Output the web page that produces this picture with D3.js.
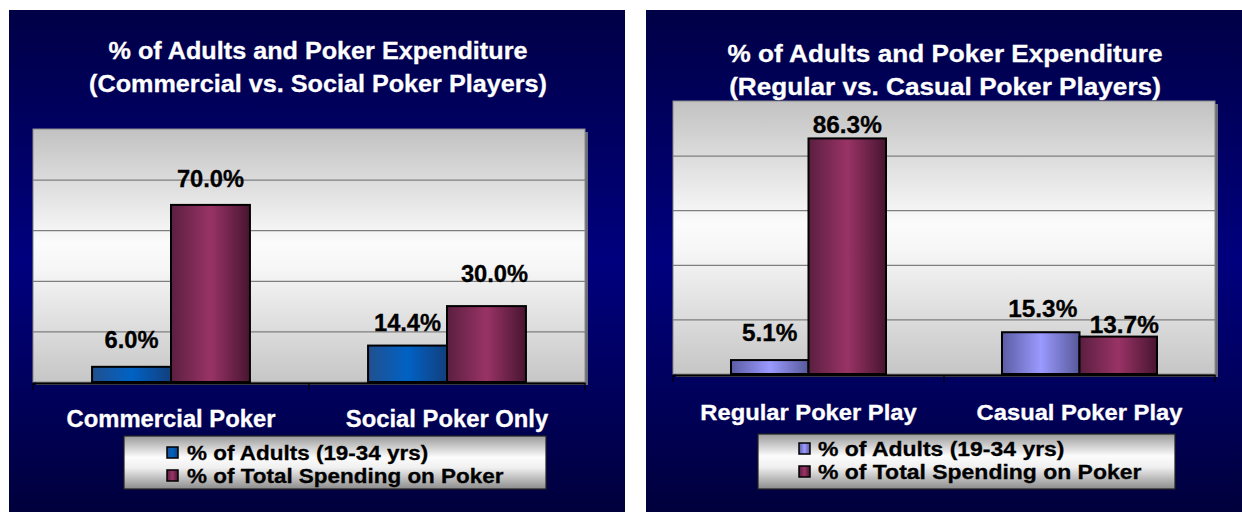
<!DOCTYPE html>
<html>
<head>
<meta charset="utf-8">
<script src="https://cdn.jsdelivr.net/npm/d3@7"></script>
<style>
  body { margin: 0; background: #ffffff; }
  svg { display: block; }
  text { font-family: "Liberation Sans", Arial, sans-serif; font-weight: bold; }
</style>
</head>
<body>
<svg id="chart" width="1242" height="512"></svg>
<script>
// ---------------- DATA ----------------
const seriesNames = ["% of Adults (19-34 yrs)", "% of Total Spending on Poker"];
const yTicks = [0, 20, 40, 60, 80, 100];

const leftTitle = ["% of Adults and Poker Expenditure", "(Commercial vs. Social Poker Players)"];
const leftCategories = ["Commercial Poker", "Social Poker Only"];
const leftAdults = [6.0, 14.4];
const leftSpending = [70.0, 30.0];

const rightTitle = ["% of Adults and Poker Expenditure", "(Regular vs. Casual Poker Players)"];
const rightCategories = ["Regular Poker Play", "Casual Poker Play"];
const rightAdults = [5.1, 15.3];
const rightSpending = [86.3, 13.7];

// ---------------- LAYOUT / STYLE ----------------
const panels = [
  {
    title: leftTitle, categories: leftCategories, series: [leftAdults, leftSpending],
    grads: ["barBlue", "barMaroon"],
    box: { x: 9, y: 10, w: 616, h: 502 },
    plot: { l: 33, t: 129, r: 585, b: 382 },
    titleX: 318, titleY: [59, 92], titleSX: 1.05,
    catY: 427, catSX: 1.035, catFS: 23,
    legend: { x: 124, y: 436, w: 422, h: 53, sq: 167, tx: 187, rows: [460, 483] }, legSX: 1.07, legFS: 21,
    labSX: 1.03,
    lift: [[19, 15], [18, 24]], nudge: [[0, 0], [0, 8]]
  },
  {
    title: rightTitle, categories: rightCategories, series: [rightAdults, rightSpending],
    grads: ["barLav", "barMaroon"],
    box: { x: 646, y: 10, w: 596, h: 502 },
    plot: { l: 673, t: 101, r: 1215, b: 374 },
    titleX: 945, titleY: [62, 95], titleSX: 1.09,
    catY: 420, catSX: 1.08, catFS: 22,
    legend: { x: 758, y: 434, w: 417, h: 55, sq: 799, tx: 818, rows: [456, 479] }, legSX: 1.12, legFS: 20.5,
    labSX: 1.06,
    lift: [[19, 15], [5, 4]], nudge: [[0, 2], [0, 6]]
  }
];

const svg = d3.select("#chart");
const defs = svg.append("defs");

function vGrad(id, stops) {
  const g = defs.append("linearGradient").attr("id", id)
    .attr("x1", 0).attr("y1", 0).attr("x2", 0).attr("y2", 1);
  stops.forEach(s => g.append("stop").attr("offset", s[0]).attr("stop-color", s[1]));
}
function hGrad(id, stops) {
  const g = defs.append("linearGradient").attr("id", id)
    .attr("x1", 0).attr("y1", 0).attr("x2", 1).attr("y2", 0);
  stops.forEach(s => g.append("stop").attr("offset", s[0]).attr("stop-color", s[1]));
}
vGrad("panelBg", [[0, "#000046"], [0.5, "#00007e"], [1, "#00003c"]]);
vGrad("plotBg", [[0, "#c2c2c2"], [0.45, "#fbfbfb"], [0.55, "#f6f6f6"], [1, "#c6c6c6"]]);
vGrad("legendBg", [[0, "#9a9a9a"], [0.4, "#fcfcfc"], [0.6, "#f0f0f0"], [1, "#8c8c8c"]]);
hGrad("barBlue", [[0, "#21508f"], [0.5, "#0062c4"], [1, "#123f7d"]]);
hGrad("barLav", [[0, "#5c5ca4"], [0.5, "#9a9aff"], [1, "#58589a"]]);
hGrad("barMaroon", [[0, "#5a1f40"], [0.5, "#993366"], [1, "#481530"]]);

panels.forEach(p => {
  const g = svg.append("g");
  const P = p.plot;

  // panel background
  g.append("rect").attr("x", p.box.x).attr("y", p.box.y)
    .attr("width", p.box.w).attr("height", p.box.h).attr("fill", "url(#panelBg)");

  // title
  g.selectAll("text.title").data(p.title).join("text")
    .attr("class", "title")
    .attr("transform", (d, i) => `translate(${p.titleX},${p.titleY[i]}) scale(${p.titleSX},1)`)
    .attr("text-anchor", "middle").attr("fill", "#ffffff").attr("font-size", 24)
    .attr("stroke", "#ffffff").attr("stroke-width", 0.3)
    .text(d => d);

  // scales
  const x = d3.scaleBand().domain(p.categories).range([P.l, P.r]).padding(0);
  const groupW = x.bandwidth() * 0.572;
  const x1 = d3.scaleBand().domain([0, 1])
    .range([(x.bandwidth() - groupW) / 2, (x.bandwidth() + groupW) / 2]).padding(0);
  const y = d3.scaleLinear().domain([yTicks[0], yTicks[yTicks.length - 1]]).range([P.b, P.t]);

  // plot area with shadow
  g.append("rect").attr("x", P.l + 3).attr("y", P.t + 3)
    .attr("width", P.r - P.l).attr("height", P.b - P.t).attr("fill", "#6e6e7a");
  g.append("rect").attr("x", P.l).attr("y", P.t)
    .attr("width", P.r - P.l).attr("height", P.b - P.t)
    .attr("fill", "url(#plotBg)").attr("stroke", "#8a8a8a").attr("stroke-width", 1);

  // gridlines
  const grid = d3.axisLeft(y).tickValues(yTicks.slice(1, -1))
    .tickSize(-(P.r - P.l)).tickFormat("");
  const gg = g.append("g").attr("transform", `translate(${P.l},0)`).call(grid);
  gg.select(".domain").remove();
  gg.selectAll(".tick line").attr("stroke", "#7f7f7f").attr("stroke-width", 1.2);

  // bars
  const flat = [];
  p.series.forEach((vals, si) => vals.forEach((v, ci) => flat.push({ si, ci, v, cat: p.categories[ci] })));
  g.selectAll("rect.bar").data(flat).join("rect")
    .attr("class", "bar")
    .attr("x", d => x(d.cat) + x1(d.si))
    .attr("y", d => y(d.v))
    .attr("width", x1.bandwidth())
    .attr("height", d => y(0) - y(d.v))
    .attr("fill", d => `url(#${p.grads[d.si]})`)
    .attr("stroke", "#000").attr("stroke-width", 2);

  // value labels
  g.selectAll("text.val").data(flat).join("text")
    .attr("class", "val")
    .attr("transform", d => `translate(${x(d.cat) + x1(d.si) + x1.bandwidth() / 2 + p.nudge[d.si][d.ci]},${y(d.v) - p.lift[d.si][d.ci]}) scale(${p.labSX},1)`)
    .attr("text-anchor", "middle").attr("fill", "#000").attr("font-size", 23)
    .attr("stroke", "#000").attr("stroke-width", 0.3)
    .text(d => d3.format(".1f")(d.v) + "%");

  // x axis with boundary ticks
  const ax = d3.axisBottom(x).tickSize(0).tickFormat("");
  const axg = g.append("g").attr("transform", `translate(0,${P.b + 1})`).call(ax);
  axg.select(".domain").attr("stroke", "#000").attr("stroke-width", 2);
  axg.selectAll(".tick").remove();
  const bounds = p.categories.map(c => x(c)).concat([P.r]);
  g.selectAll("line.bt").data(bounds).join("line")
    .attr("class", "bt")
    .attr("x1", d => d).attr("x2", d => d)
    .attr("y1", P.b + 1).attr("y2", P.b + 8)
    .attr("stroke", "#000").attr("stroke-width", 1.2);

  // category labels
  g.selectAll("text.cat").data(p.categories).join("text")
    .attr("class", "cat")
    .attr("transform", d => `translate(${x(d) + x.bandwidth() / 2},${p.catY}) scale(${p.catSX},1)`)
    .attr("text-anchor", "middle").attr("fill", "#ffffff").attr("font-size", p.catFS)
    .attr("stroke", "#ffffff").attr("stroke-width", 0.3)
    .text(d => d);

  // legend
  const L = p.legend;
  g.append("rect").attr("x", L.x).attr("y", L.y).attr("width", L.w).attr("height", L.h)
    .attr("fill", "url(#legendBg)").attr("stroke", "#222").attr("stroke-width", 1.2);
  const li = g.selectAll("g.li").data(seriesNames).join("g").attr("class", "li");
  li.append("rect")
    .attr("x", L.sq).attr("y", (d, i) => L.rows[i] - 13)
    .attr("width", 11).attr("height", 11)
    .attr("fill", (d, i) => `url(#${p.grads[i]})`)
    .attr("stroke", "#000").attr("stroke-width", 1.5);
  li.append("text")
    .attr("transform", (d, i) => `translate(${L.tx},${L.rows[i]}) scale(${p.legSX},1)`)
    .attr("fill", "#000").attr("font-size", p.legFS)
    .attr("stroke", "#000").attr("stroke-width", 0.3)
    .text(d => d);
});
</script>
</body>
</html>
